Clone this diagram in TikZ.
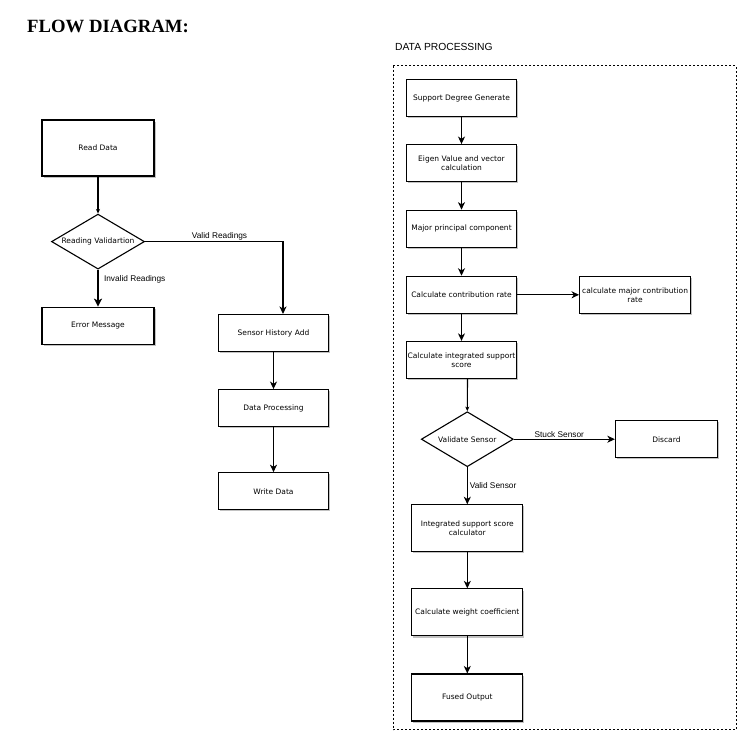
\documentclass[tikz,border=0pt]{standalone}
\usepackage{fontspec}
\setmainfont{DejaVu Sans}
\newfontfamily\labelfont{Liberation Sans}
\newfontfamily\titlefont{Liberation Serif}
\usetikzlibrary{arrows.meta, positioning, shapes.geometric, shadows}

\begin{document}
\begin{tikzpicture}[x=1pt, y=-1pt,
    box/.style={draw, line width=1.1pt, fill=white, align=center, inner sep=1pt,
        font=\fontsize{7.5}{8.8}\selectfont,
        drop shadow={shadow xshift=1.6pt, shadow yshift=-1.6pt, fill=black!40, opacity=0.6}},
    decision/.style={draw, diamond, line width=1.1pt, fill=white, inner sep=0pt, aspect=1.7,
        font=\fontsize{7.5}{8.8}\selectfont},
    lbl/.style={font=\labelfont\fontsize{8.3}{9}\selectfont, inner sep=1pt},
    flow/.style={line width=1.1pt, -{Stealth[length=7.5pt, width=7pt, inset=2.2pt]}},
    thin head/.style={-{Stealth[length=4.5pt, width=4pt, inset=1.2pt]}}]
    \useasboundingbox (0,0) rectangle (744,756);

    % titles
    \node (title) [anchor=base west, inner sep=0pt, font=\titlefont\bfseries\fontsize{18.7}{20}\selectfont]
        at (27,32) {FLOW DIAGRAM:};
    \node (dptitle) [anchor=base west, inner sep=0pt, font=\labelfont\fontsize{10.3}{12}\selectfont]
        at (395,50) {DATA PROCESSING};

    % main flow
    \node (readdata) [box, minimum width=112pt, minimum height=56pt] at (98,148) {Read Data};
    \node (readval) [decision, minimum width=93pt, minimum height=55pt, below=37pt of readdata] {Reading Validartion};
    \node (errmsg) [box, minimum width=112pt, minimum height=37pt, below=37pt of readval] {Error Message};

    \node (sensadd) [box, minimum width=110pt, minimum height=37pt] at (273.5,333) {Sensor History Add};
    \node (dataproc) [box, minimum width=110pt, minimum height=37pt, below=37pt of sensadd] {Data Processing};
    \node (writedata) [box, minimum width=110pt, minimum height=37pt, below=45pt of dataproc] {Write Data};

    % data processing block
    \draw[dash pattern=on 2pt off 2pt, line width=0.9pt] (393,65.5) rectangle (736,729.5);

    \node (supdeg) [box, minimum width=110pt, minimum height=37pt] at (461.5,98) {Support Degree Generate};
    \node (eigen) [box, minimum width=110pt, minimum height=37pt, below=27pt of supdeg] {Eigen Value and vector\\calculation};
    \node (major) [box, minimum width=110pt, minimum height=37pt, below=27.5pt of eigen] {Major principal component};
    \node (contrib) [box, minimum width=110pt, minimum height=37pt, below=28pt of major] {Calculate contribution rate};
    \node (majcontrib) [box, minimum width=111pt, minimum height=37pt, right=62pt of contrib] {calculate major contribution\\rate};
    \node (integ) [box, minimum width=110pt, minimum height=37pt, below=27pt of contrib] {Calculate integrated support\\score};

    \node (valsens) [decision, minimum width=92pt, minimum height=55pt] at (467.3,439.2) {Validate Sensor};
    \node (discard) [box, minimum width=102pt, minimum height=37pt, right=101pt of valsens] {Discard};
    \node (issc) [box, minimum width=111pt, minimum height=47pt, below=37pt of valsens] {Integrated support score\\calculator};
    \node (weight) [box, minimum width=111pt, minimum height=47pt, below=36pt of issc] {Calculate weight coefficient};
    \node (fused) [box, minimum width=111pt, minimum height=47pt, below=37pt of weight] {Fused Output};

    \path[flow]
    (readdata) edge [thin head] (readval)
    (readval) edge [line width=2pt, -{Stealth[length=8pt, width=8pt, inset=2pt]}]
        node [lbl, pos=0.27, anchor=west, xshift=4pt] {Invalid Readings} (errmsg)
    (sensadd) edge (dataproc)
    (dataproc) edge (writedata)
    (supdeg) edge (eigen)
    (eigen) edge (major)
    (major) edge (contrib)
    (contrib) edge (majcontrib)
    (contrib) edge (integ)
    ([xshift=6pt]integ.south) edge [thin head] (valsens.north)
    (valsens) edge node [lbl, above, pos=0.45] {Stuck Sensor} (discard)
    (valsens) edge node [lbl, pos=0.5, anchor=west, xshift=1pt] {Valid Sensor} (issc)
    (issc) edge (weight)
    (weight) edge (fused);

    \draw[flow] (readval.east) -| node [lbl, above, pos=0.27] {Valid Readings} ([xshift=9.5pt]sensadd.north);

\end{tikzpicture}
\end{document}
